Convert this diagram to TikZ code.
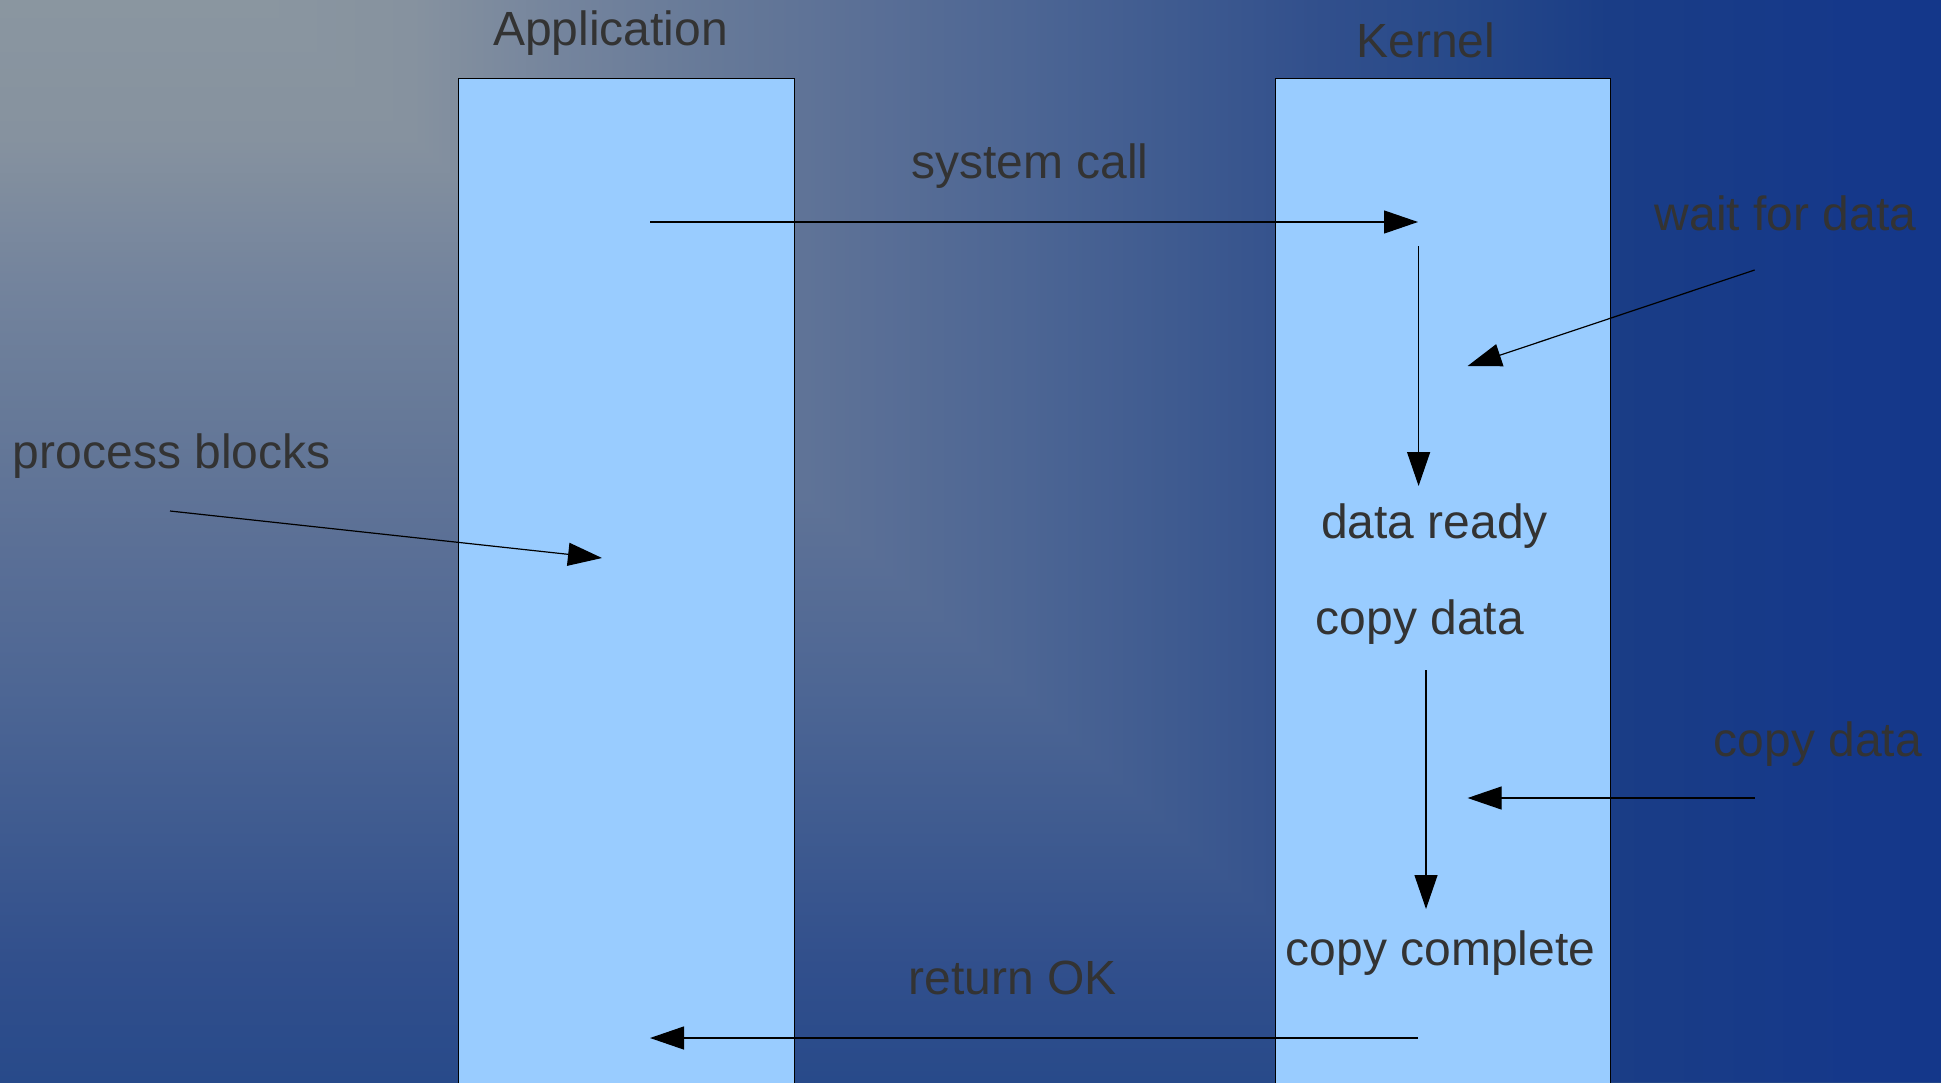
\documentclass[tikz,border=0pt]{standalone}
\usepackage{fontspec}
\setmainfont{Liberation Sans}
\usetikzlibrary{arrows.meta}
\definecolor{txt}{HTML}{333333}
\definecolor{colfill}{HTML}{99CCFF}
\definecolor{gA}{HTML}{8A96A0}
\definecolor{gB}{HTML}{86929F}
\definecolor{gC}{HTML}{74849D}
\definecolor{gD}{HTML}{667998}
\definecolor{gE}{HTML}{5A6F96}
\definecolor{gF}{HTML}{4D6694}
\definecolor{gG}{HTML}{3F5B90}
\definecolor{gH}{HTML}{314F8C}
\definecolor{gI}{HTML}{284A8A}
\definecolor{gJ}{HTML}{1A3D86}
\definecolor{gK}{HTML}{15388A}
\definecolor{gL}{HTML}{14378A}
\pgfdeclareverticalshading{bgvert}{100bp}{color(0bp)=(gI); color(25bp)=(gI); color(30.36bp)=(gH); color(36.74bp)=(gG); color(43.11bp)=(gF); color(49.49bp)=(gE); color(55.87bp)=(gD); color(62.25bp)=(gC); color(68.62bp)=(gB); color(75bp)=(gA); color(100bp)=(gA)}
\pgfdeclarehorizontalshading{bghorz}{100bp}{color(0bp)=(gA); color(25bp)=(gA); color(29.52bp)=(gB); color(34.03bp)=(gC); color(38.55bp)=(gD); color(43.06bp)=(gE); color(47.58bp)=(gF); color(52.09bp)=(gG); color(56.61bp)=(gH); color(60.40bp)=(gI); color(65.11bp)=(gJ); color(72.51bp)=(gK); color(75bp)=(gL); color(100bp)=(gL)}
\tikzset{
  lab/.style={font=\fontsize{48}{56}\selectfont, text=txt, anchor=base, inner sep=0pt},
  colbox/.style={draw=black, line width=1pt, fill=colfill, anchor=north west, inner sep=0pt},
  conn/.style={draw=black, line width=1.2pt, -{Triangle[length=34pt,width=23pt]}}
}
\begin{document}
\begin{tikzpicture}[x=1pt,y=-1pt]
\useasboundingbox (0,0) rectangle (1941,1082);
\begin{scope}
\clip (0,0) rectangle (1941,1082);
% background: rectangular gradient built from two axis shadings
\shade[shading=bgvert] (0,0) rectangle (1941,1082);
\begin{scope}
\clip (260,0) -- (1941,0) -- (1941,1082) -- (1450,1082) -- cycle;
\shade[shading=bghorz] (260,0) rectangle (1941,1082);
\end{scope}
% columns
\node[colbox, minimum width=336pt, minimum height=1040pt] (appcol) at (458,78) {};
\node[colbox, minimum width=335pt, minimum height=1040pt] (kercol) at (1275,78) {};
% connector end points
\coordinate (scS) at (650,222);
\coordinate (scE) at (1418,222);
\coordinate (v1S) at (1418.6,246);
\coordinate (v1E) at (1418.6,486);
\coordinate (wdS) at (1754.6,270);
\coordinate (wdE) at (1467.6,366);
\coordinate (pbS) at (170,511);
\coordinate (pbE) at (602,558);
\coordinate (v2S) at (1426,670);
\coordinate (v2E) at (1426,909);
\coordinate (cdS) at (1754.6,798);
\coordinate (cdE) at (1467.6,798);
\coordinate (okS) at (1418,1038);
\coordinate (okE) at (650,1038);
% connectors
\draw[conn] (scS) -- (scE);
\draw[conn] (v1S) -- (v1E);
\draw[conn] (wdS) -- (wdE);
\draw[conn] (pbS) -- (pbE);
\draw[conn] (v2S) -- (v2E);
\draw[conn] (cdS) -- (cdE);
\draw[conn] (okS) -- (okE);
% labels
\node[lab] (tApp) at (610.5,45) {Application};
\node[lab] (tKer) at (1425.7,57) {Kernel};
\node[lab] (tSys) at (1030,178) {system call};
\node[lab] (tWait) at (1785.5,230) {wait for data};
\node[lab] (tProc) at (171.7,468) {process blocks};
\node[lab] (tReady) at (1434.5,538) {data ready};
\node[lab] (tCopyK) at (1420,634) {copy data};
\node[lab] (tCopyR) at (1818,756) {copy data};
\node[lab] (tDone) at (1440.6,965) {copy complete};
\node[lab] (tOK) at (1013,994) {return OK};
\end{scope}
\end{tikzpicture}
\end{document}
